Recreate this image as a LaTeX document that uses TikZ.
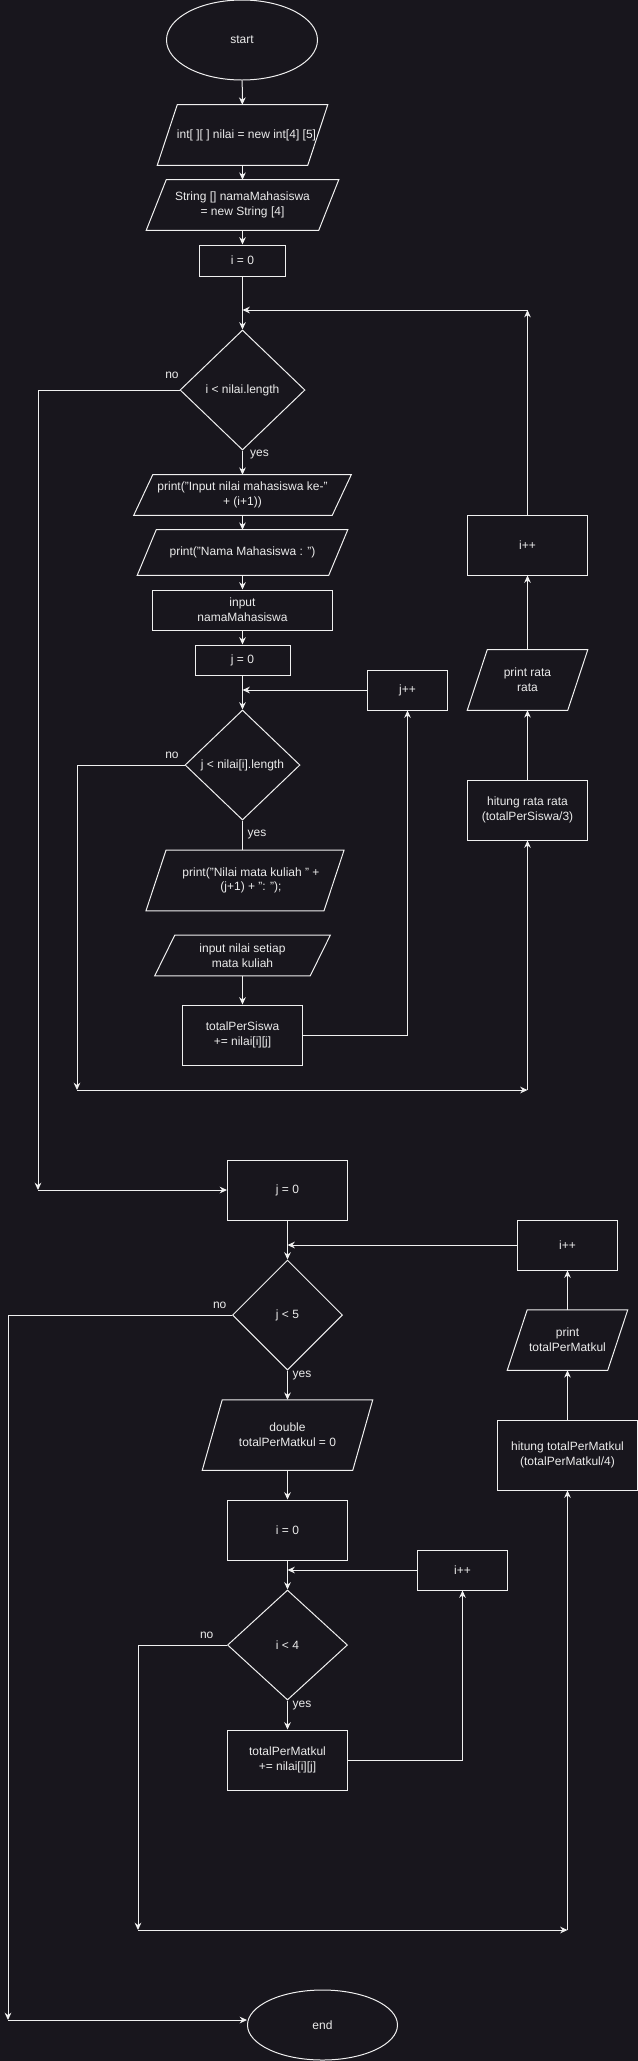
\documentclass[tikz,border=0pt]{standalone}
\usepackage{fontspec}
\setmainfont{Liberation Sans}
\usetikzlibrary{shapes.geometric,arrows.meta,calc}
\definecolor{bgc}{RGB}{24,22,29}
\definecolor{lc}{RGB}{240,240,240}
\definecolor{tc}{RGB}{235,235,235}
\tikzset{
  txt/.style={font=\fontsize{9pt}{11pt}\selectfont, text=tc, align=center, inner sep=0pt},
  procbox/.style={txt, rectangle, draw=lc, line width=0.75pt},
  decbox/.style={txt, diamond, draw=lc, line width=0.75pt},
  termbox/.style={txt, ellipse, draw=lc, line width=0.75pt},
  shapeline/.style={draw=lc, line width=0.75pt, line join=miter},
  arr/.style={draw=lc, line width=0.75pt, -{Stealth[length=5.5pt,width=5pt]}},
  ln/.style={draw=lc, line width=0.75pt},
  lbl/.style={txt}
}
% name, cx, cy, w, h, skew, text
\newcommand{\parabox}[7]{%
  \node[txt, minimum width=#4*0.75pt, minimum height=#5*0.75pt] (#1) at (#2,#3) {#7};
  \draw[shapeline] ($(#1.north west)+(#6/2,0)$) -- ($(#1.north east)+(#6/2,0)$)
     -- ($(#1.south east)+(-#6/2,0)$) -- ($(#1.south west)+(-#6/2,0)$) -- cycle;
}
\begin{document}
\begin{tikzpicture}[x=0.75pt,y=-0.75pt]
\fill[bgc] (0,0) rectangle (638,2061);
\useasboundingbox (0,0) rectangle (638,2061);

% ---------- first part ----------
\node[termbox, minimum width=113.25pt, minimum height=60pt] (start) at (242,40) {start};
\parabox{p1}{242.5}{135}{150}{60}{20}{\hspace*{6pt}int[ ][ ] nilai = new int[4] [5]}
\parabox{p2}{242.5}{205}{172}{50}{20}{String [] namaMahasiswa\\= new String [4]}
\node[procbox, minimum width=64.5pt, minimum height=23.25pt] (i0) at (242.5,260.5) {i = 0};
\node[decbox, minimum width=93.75pt, minimum height=90pt] (d1) at (242.5,390) {i < nilai.length};
\parabox{p3}{242.5}{495}{198}{40}{19}{print("Input nilai mahasiswa ke-"\\+ (i+1))}
\parabox{p4}{242.5}{552.5}{191}{45}{19}{print("Nama Mahasiswa : ")}
\node[procbox, minimum width=135pt, minimum height=30pt] (in1) at (242.5,610) {input\\namaMahasiswa};
\node[procbox, minimum width=71.25pt, minimum height=22.5pt] (j0) at (242.5,660) {j = 0};
\node[procbox, minimum width=60pt, minimum height=30pt] (jpp) at (407.5,690) {j++};
\node[decbox, minimum width=86.25pt, minimum height=82.5pt] (d2) at (242.5,765) {j < nilai[i].length};
\parabox{p5}{245}{880.5}{177.5}{60}{20}{\hspace*{9pt}print("Nilai mata kuliah " +\\\hspace*{9pt}(j+1) + ": ");}
\parabox{p6}{242.5}{955.5}{155}{40}{20}{input nilai setiap\\mata kuliah}
\node[procbox, minimum width=90pt, minimum height=45pt] (tps) at (242.5,1035) {totalPerSiswa\\+= nilai[i][j]};
\node[procbox, minimum width=90pt, minimum height=45pt] (ipp1) at (527.5,545) {i++};
\parabox{prr}{527.5}{680}{100}{60}{20}{print rata\\rata}
\node[procbox, minimum width=90pt, minimum height=45pt] (hit1) at (527.5,810) {hitung rata rata\\(totalPerSiswa/3)};

\coordinate (m1) at (242.5,310);
\coordinate (r1) at (527.5,310);
\coordinate (m2) at (242.5,690);
\coordinate (cN2) at (77,1090);
\coordinate (cR2) at (527.5,1090);
\coordinate (cN1) at (38,1190);

\draw[arr] (start) -- (p1);
\draw[arr] (p1) -- (p2);
\draw[arr] (p2) -- (i0);
\draw[arr] (i0) -- (d1.north);
\draw[arr] (ipp1.north) -- (r1);
\draw[arr] (r1) -- (m1);
\draw[arr] (d1.west) -| (cN1);
\node[lbl] (no1) at (172,375) {no};
\draw[arr] (d1.south) -- (p3.north);
\node[lbl] (yes1) at (259.5,455) {yes};
\draw[arr] (p3) -- (p4);
\draw[arr] (p4) -- (in1);
\draw[arr] (in1) -- (j0);
\draw[arr] (j0) -- (d2.north);
\draw[arr] (jpp.west) -- (m2);
\draw[arr] (d2.west) -| (cN2);
\node[lbl] (no2) at (172,755) {no};
\draw[arr] (cN2) -- (cR2);
\draw[arr] (cR2) -- (hit1.south);
\draw[ln] (d2.south) -- (p5.north -| d2.south);
\node[lbl] (yes2) at (257,835) {yes};
\draw[arr] (p6) -- (tps);
\draw[arr] (tps.east) -| (jpp.south);
\draw[arr] (hit1) -- (prr);
\draw[arr] (prr) -- (ipp1);

% ---------- second part ----------
\node[procbox, minimum width=90pt, minimum height=45pt] (j0b) at (287.5,1190) {j = 0};
\node[procbox, minimum width=75pt, minimum height=37.5pt] (jpp2) at (567.5,1245) {i++};
\node[decbox, minimum width=82.5pt, minimum height=82.5pt] (d3) at (287.5,1315) {j < 5};
\parabox{p7}{287.5}{1435}{150}{70}{20}{double\\totalPerMatkul = 0}
\parabox{ppm}{567.5}{1340}{100}{60}{20}{print\\totalPerMatkul}
\node[procbox, minimum width=105pt, minimum height=52.5pt] (hit2) at (567.5,1455) {hitung totalPerMatkul\\(totalPerMatkul/4)};
\node[procbox, minimum width=90pt, minimum height=45pt] (i0b) at (287.5,1530) {i = 0};
\node[procbox, minimum width=67.5pt, minimum height=30pt] (ipp3) at (462.5,1570) {i++};
\node[decbox, minimum width=90pt, minimum height=82.5pt] (d4) at (287.5,1645) {i < 4};
\node[procbox, minimum width=90pt, minimum height=45pt] (tpm) at (287.5,1760) {totalPerMatkul\\+= nilai[i][j]};
\node[termbox, minimum width=112.5pt, minimum height=52.5pt] (end) at (322.5,2025) {end};

\coordinate (m3) at (287.5,1245);
\coordinate (m4) at (287.5,1570);
\coordinate (cN4) at (138,1930);
\coordinate (cR4) at (567.5,1930);
\coordinate (cN3) at (8,2020);

\draw[arr] (cN1) -- (j0b.west);
\draw[arr] (j0b) -- (d3.north);
\draw[arr] (jpp2.west) -- (m3);
\draw[arr] (d3.west) -| (cN3);
\node[lbl] (no3) at (219.7,1305) {no};
\draw[arr] (cN3) -- (cN3 -| end.west);
\draw[arr] (d3.south) -- (p7.north);
\node[lbl] (yes3) at (302,1375) {yes};
\draw[arr] (p7) -- (i0b);
\draw[arr] (i0b) -- (d4.north);
\draw[arr] (ipp3.west) -- (m4);
\draw[arr] (d4.west) -| (cN4);
\node[lbl] (no4) at (206.7,1635) {no};
\draw[arr] (cN4) -- (cR4);
\draw[arr] (cR4) -- (hit2.south);
\draw[arr] (d4.south) -- (tpm.north);
\node[lbl] (yes4) at (302,1705) {yes};
\draw[arr] (tpm.east) -| (ipp3.south);
\draw[arr] (hit2) -- (ppm);
\draw[arr] (ppm) -- (jpp2);
\end{tikzpicture}
\end{document}
